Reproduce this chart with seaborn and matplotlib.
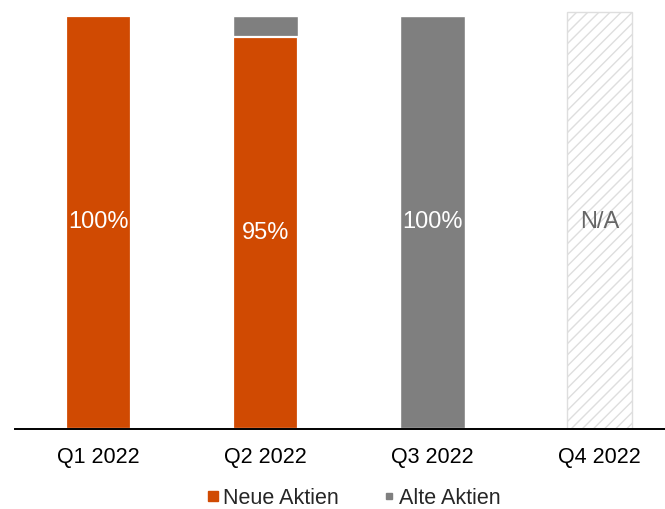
import matplotlib
matplotlib.use("Agg")
import matplotlib.pyplot as plt
import seaborn as sns
import pandas as pd
import numpy as np
from matplotlib.lines import Line2D

# Shares of new vs. old shares per quarter (fractions of total)
quarters = ["Q1 2022", "Q2 2022", "Q3 2022", "Q4 2022"]
neue_aktien = [1.00, 0.95, 0.00, np.nan]
alte_aktien = [0.00, 0.05, 1.00, np.nan]
na_placeholder = [np.nan, np.nan, np.nan, 1.01]
bar_labels = ["100%", "95%", "100%", "N/A"]

ORANGE = "#D04A02"
GREY = "#7F7F7F"
HATCH_GREY = "#DEDEDE"

sns.set_theme(style="white")
plt.rcParams["font.family"] = ["Liberation Sans", "DejaVu Sans"]
plt.rcParams["hatch.linewidth"] = 1.0

df = pd.DataFrame({
    "quarter": quarters,
    "neue": neue_aktien,
    "alte": alte_aktien,
    "na": na_placeholder,
})
df["total"] = df["neue"] + df["alte"]

fig = plt.figure(figsize=(6.65, 5.09), dpi=100)
ax = fig.add_axes([15 / 665, 1 - 428.5 / 509, 650 / 665, 428.5 / 509])

bw = 0.39
# stacked: grey total behind, orange "Neue Aktien" on top
sns.barplot(data=df, x="quarter", y="total", order=quarters, color=GREY,
            saturation=1, width=bw, ax=ax, errorbar=None)
sns.barplot(data=df, x="quarter", y="neue", order=quarters, color=ORANGE,
            saturation=1, width=bw, ax=ax, errorbar=None,
            edgecolor="white", linewidth=1.6)
# quarter without data: hatched placeholder
sns.barplot(data=df, x="quarter", y="na", order=quarters, color="white",
            saturation=1, width=bw, ax=ax, errorbar=None,
            edgecolor=HATCH_GREY, linewidth=1.0, hatch="///")

# value labels centred in the dominant segment
for i, q in enumerate(quarters):
    n, a, p = neue_aktien[i], alte_aktien[i], na_placeholder[i]
    if not np.isnan(p):
        ax.text(i, 0.5, bar_labels[i], ha="center", va="center",
                color="#666666", fontsize=17)
    elif n >= a:
        ax.text(i, n / 2, bar_labels[i], ha="center", va="center",
                color="white", fontsize=17)
    else:
        ax.text(i, n + a / 2, bar_labels[i], ha="center", va="center",
                color="white", fontsize=17)

ax.set_xlim(-0.5, -0.5 + 650 / 167)
ax.set_ylim(0, 428.5 / 412.5)
ax.set_xlabel("")
ax.set_ylabel("")
ax.set_yticks([])
ax.tick_params(axis="x", length=0, pad=13, labelsize=15.5, labelcolor="black")
for side in ["top", "right", "left"]:
    ax.spines[side].set_visible(False)
ax.spines["bottom"].set_color("black")
ax.spines["bottom"].set_linewidth(1.4)

handles = [
    Line2D([], [], marker="s", linestyle="none", markersize=6.5,
           markerfacecolor=ORANGE, markeredgecolor=ORANGE, label="Neue Aktien"),
    Line2D([], [], marker="s", linestyle="none", markersize=5,
           markerfacecolor=GREY, markeredgecolor=GREY, label="Alte Aktien"),
]
fig.legend(handles=handles, loc="center", bbox_to_anchor=(0.532, 1 - 498 / 509),
           ncol=2, frameon=False, fontsize=15.5, handletextpad=0.15,
           columnspacing=2.05, handlelength=0.6)

fig.savefig("out.png", dpi=100)
